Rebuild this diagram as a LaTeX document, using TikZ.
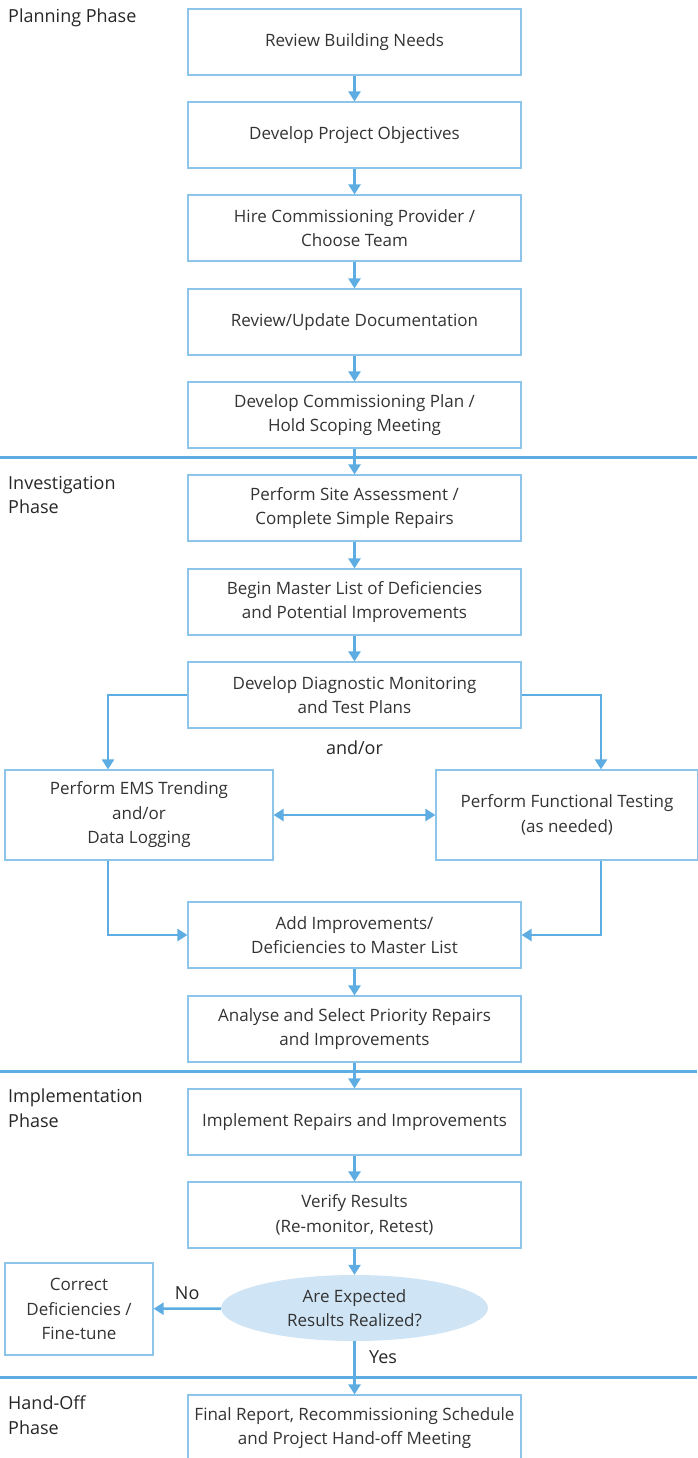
\documentclass[tikz,border=0pt]{standalone}
\usepackage{fontspec}
\setmainfont{Open Sans}
\usetikzlibrary{arrows.meta,shapes.geometric,positioning}
\definecolor{flowblue}{HTML}{5DADE2}
\definecolor{boxblue}{HTML}{8CC4EA}
\definecolor{decisionfill}{HTML}{CFE4F5}
\definecolor{inkgray}{HTML}{333333}

\begin{document}
\begin{tikzpicture}[x=1pt,y=-1pt,>={Triangle[width=12pt,length=10pt]},
    task/.style={draw=boxblue,line width=1.2pt,minimum width=333pt,minimum height=66pt,
        align=center,text=inkgray,font=\fontsize{17}{24.5}\selectfont},
    decision/.style={ellipse,fill=decisionfill,minimum width=267pt,minimum height=66pt,
        inner sep=0pt,align=center,text=inkgray,font=\fontsize{17}{24.5}\selectfont},
    phase/.style={anchor=north west,inner sep=0pt,align=left,text=black!85,
        font=\fontsize{18}{24.5}\selectfont},
    answer/.style={text=black!85,font=\fontsize{18}{20}\selectfont},
    flow/.style={->,flowblue,line width=2.5pt},
    divider/.style={flowblue,line width=3pt}]

    \useasboundingbox (0,0) rectangle (697,1458);

    % phases
    \node[phase] (planning) at (8,9) {Planning Phase};
    \node[phase] (investigation) at (8,476) {Investigation\\Phase};
    \node[phase] (implementation) at (8,1089) {Implementation\\Phase};
    \node[phase] (handoff) at (8,1396) {Hand-Off\\Phase};
    \foreach \y in {457,1071,1377} \draw[divider] (0,\y) -- (697,\y);

    % main column
    \foreach \n/\y/\t in {
        needs/42/{Review Building Needs},
        objectives/135/{Develop Project Objectives},
        provider/228/{Hire Commissioning Provider /\\ Choose Team},
        docs/322/{Review/Update Documentation},
        plan/415/{Develop Commissioning Plan /\\ Hold Scoping Meeting},
        site/508/{Perform Site Assessment /\\ Complete Simple Repairs},
        master/602/{Begin Master List of Deficiencies\\ and Potential Improvements},
        diag/695/{Develop Diagnostic Monitoring\\ and Test Plans},
        add/935/{Add Improvements/\\ Deficiencies to Master List},
        priority/1029/{Analyse and Select Priority Repairs\\ and Improvements},
        implement/1122/{Implement Repairs and Improvements},
        verify/1215/{Verify Results\\ (Re-monitor, Retest)},
        final/1428/{Final Report, Recommissioning Schedule\\ and Project Hand-off Meeting}}
        \node[task] (\n) at (354.5,\y) {\t};
    \foreach \a/\b in {needs/objectives,objectives/provider,provider/docs,docs/plan,plan/site,
        site/master,master/diag,add/priority,priority/implement,implement/verify}
        \draw[flow] (\a) -- (\b);

    % branches
    \node[task,minimum width=268pt,minimum height=90pt] (ems) at (139,815)
        {Perform EMS Trending\\ and/or\\ Data Logging};
    \node[task,minimum width=262pt,minimum height=90pt] (func) at (567,815)
        {Perform Functional Testing\\ (as needed)};
    \node[answer] (andor) at (354.5,748) {and/or};
    \coordinate (lx) at (108,0);
    \coordinate (rx) at (601,0);
    \draw[flow] (diag.west) -| (lx |- ems.north);
    \draw[flow] (diag.east) -| (rx |- func.north);
    \draw[flow,<->] (ems.east) -- (func.west);
    \draw[flow] (lx |- ems.south) |- (add.west);
    \draw[flow] (rx |- func.south) |- (add.east);

    % decision
    \node[decision] (ask) at (354.5,1308) {Are Expected\\ Results Realized?};
    \node[task,minimum width=148pt,minimum height=92pt] (correct) at (79,1309)
        {Correct\\ Deficiencies /\\ Fine-tune};
    \draw[flow] (verify) -- (ask);
    \draw[flow] (ask) -- node[answer,above=4pt] {No} (correct);
    \draw[flow] (ask) -- node[answer,pos=0.3,right=10pt] {Yes} (final);
\end{tikzpicture}
\end{document}
